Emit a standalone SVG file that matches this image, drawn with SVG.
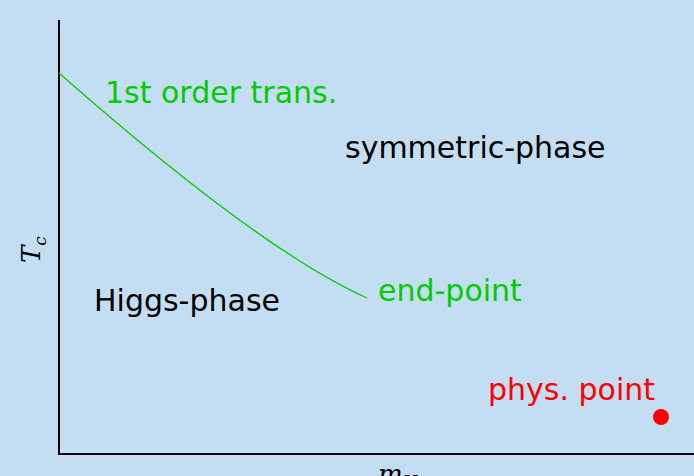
<svg xmlns="http://www.w3.org/2000/svg" width="694" height="476" viewBox="0 0 694 476">
<style>
.lbl{font-family:"DejaVu Sans",sans-serif;font-size:30px}
.g{fill:#00cc00}
.k{fill:#000}
.r{fill:#ff0000}
.m{font-family:"DejaVu Serif","Liberation Serif",serif;font-style:italic}
</style>
<rect width="694" height="476" fill="#c3def2"/>
<g id="axes" stroke="#000" stroke-width="2" fill="none">
<line x1="59" y1="20" x2="59" y2="455"/>
<line x1="58" y1="454" x2="694" y2="454"/>
</g>
<g id="connectors">
<path d="M59,73 Q260,250 367,298" fill="none" stroke="#00cc00" stroke-width="1.3"/>
</g>
<g id="label-first-order"><text class="lbl g" x="105" y="103">1st order trans.</text></g>
<g id="label-symmetric"><text class="lbl k" x="345" y="158">symmetric-phase</text></g>
<g id="label-higgs"><text class="lbl k" x="94" y="311">Higgs-phase</text></g>
<g id="label-endpoint"><text class="lbl g" x="378" y="301">end-point</text></g>
<g id="phys-point"><text class="lbl r" x="488" y="400">phys. point</text><circle cx="661" cy="417" r="8" fill="#ff0000"/></g>
<g id="axis-y-label"><text class="m" font-size="26" transform="translate(40,263) rotate(-90)">T<tspan font-size="17" dy="6">c</tspan></text></g>
<g id="axis-x-label"><text class="m" font-size="26" x="378" y="483">m<tspan font-size="17" dy="4">H</tspan></text></g>
</svg>
